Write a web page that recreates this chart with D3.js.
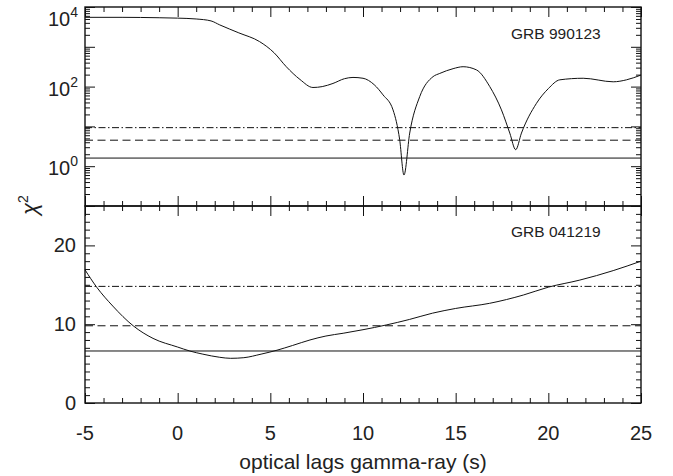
<!DOCTYPE html>
<html>
<head>
<meta charset="utf-8">
<script src="https://cdn.jsdelivr.net/npm/d3@7"></script>
<style>
  body { margin: 0; background: #fff; }
  text { font-family: "Liberation Sans", Arial, Helvetica, sans-serif; fill: #222; }
</style>
</head>
<body>
<svg id="chart" width="673" height="476"></svg>
<script>
// values
const lagTicks = [-5, 0, 5, 10, 15, 20, 25];

const lag990123 = [-5, -3, -1, 0, 1, 1.8, 2.27, 3.3, 4.42, 5.2, 5.86, 6.6, 7.3, 7.8, 8.38, 9.0, 9.46, 10, 10.6, 11.08, 11.62, 11.98, 12.21, 12.52, 13.06, 13.78, 14.14, 14.86, 15.4, 16.12, 16.84, 17.47, 17.92, 18.24, 18.55, 19.36, 20.0, 20.62, 21.88, 23.5, 24.22, 25];
const chi990123 = [5500, 5500, 5370, 5250, 5000, 4470, 3550, 2240, 1350, 710, 316, 151, 95, 100, 120, 158, 170, 162, 112, 62, 26, 4.6, 0.6, 6.8, 56, 178, 214, 282, 316, 263, 100, 26, 6.8, 2.6, 6.8, 38, 89, 148, 162, 132, 148, 195];
const levels990123 = [1.6, 4.5, 9.3];

const lag041219 = [-5, -4.37, -3.5, -2.4, -1.33, 0, 0.65, 1.36, 2.27, 2.86, 3.57, 4.5, 5.36, 6.2, 7.14, 8.0, 8.93, 10, 11.25, 12.5, 13.75, 15, 16.83, 18.65, 20, 21.7, 23.5, 25];
const chi041219 = [16.9, 14.7, 12.3, 9.8, 8.2, 7.1, 6.6, 6.2, 5.8, 5.67, 5.75, 6.2, 6.7, 7.3, 8.0, 8.5, 8.85, 9.3, 9.9, 10.6, 11.4, 12.0, 12.65, 13.7, 14.7, 15.6, 16.8, 18.0];
const levels041219 = [6.6, 9.8, 14.8];

const logLabels = [1, 100, 10000];
const linTicks = [0, 10, 20];

const levelDash = ["none", "8,4.5", "7,2.5,1.5,2.5"];

const svg = d3.select("#chart");
const left = 85, right = 641;
const topPanel = { y0: 7, y1: 206 };
const botPanel = { y0: 206, y1: 403 };

const x = d3.scaleLinear().domain([-5, 25]).range([left, right]);
const yTop = d3.scaleLog().domain([0.1, 10000]).range([topPanel.y1, topPanel.y0]);
const yBot = d3.scaleLinear().domain([0, 25]).range([botPanel.y1, botPanel.y0]);

const minorX = d3.range(-5, 26, 1).filter(d => d % 5 !== 0);
const majorLog = [0.1, 1, 10, 100, 1000, 10000];
const minorLog = [];
[0.1, 1, 10, 100, 1000].forEach(d => { for (let k = 2; k <= 9; k++) minorLog.push(d * k); });
const minorLin = d3.range(0, 26, 1).filter(d => d % 10 !== 0);

function tickAxis(axis, values, size, tr) {
    const g = svg.append("g")
        .attr("transform", tr)
        .call(axis.tickValues(values).tickSizeInner(size).tickSizeOuter(0).tickFormat(""));
    g.select(".domain").remove();
    g.selectAll(".tick line").attr("stroke", "#111").attr("stroke-width", 1);
    return g;
}

function drawPanel(p, y, yMajor, yMinor) {
    // x ticks, bottom and top, pointing inward
    tickAxis(d3.axisBottom(x), lagTicks, -10, `translate(0,${p.y1})`);
    tickAxis(d3.axisBottom(x), minorX, -5, `translate(0,${p.y1})`);
    tickAxis(d3.axisTop(x), lagTicks, -10, `translate(0,${p.y0})`);
    tickAxis(d3.axisTop(x), minorX, -5, `translate(0,${p.y0})`);
    // y ticks, left and right
    tickAxis(d3.axisLeft(y), yMajor, -10, `translate(${left},0)`);
    tickAxis(d3.axisLeft(y), yMinor, -5, `translate(${left},0)`);
    tickAxis(d3.axisRight(y), yMajor, -10, `translate(${right},0)`);
    tickAxis(d3.axisRight(y), yMinor, -5, `translate(${right},0)`);

    svg.append("rect")
        .attr("x", left).attr("y", p.y0)
        .attr("width", right - left).attr("height", p.y1 - p.y0)
        .attr("fill", "none").attr("stroke", "#111").attr("stroke-width", 1.4);
}

function drawLevels(levels, y) {
    svg.selectAll(null)
        .data(levels)
        .enter()
        .append("line")
        .attr("x1", left).attr("x2", right)
        .attr("y1", d => y(d)).attr("y2", d => y(d))
        .attr("stroke", "#111")
        .attr("stroke-width", 1)
        .attr("stroke-dasharray", (d, i) => levelDash[i]);
}

function drawCurve(xs, ys, y) {
    const pts = xs.map((v, i) => [v, ys[i]]);
    svg.append("path")
        .datum(pts)
        .attr("fill", "none")
        .attr("stroke", "#111")
        .attr("stroke-width", 1)
        .attr("d", d3.line().x(d => x(d[0])).y(d => y(d[1])).curve(d3.curveMonotoneX));
}

// top panel: GRB 990123, log scale
drawLevels(levels990123, yTop);
drawCurve(lag990123, chi990123, yTop);
drawPanel(topPanel, yTop, majorLog, minorLog);

const logLab = svg.selectAll(null)
    .data(logLabels)
    .enter()
    .append("text")
    .attr("x", left - 7)
    .attr("y", d => Math.max(yTop(d) + 9, 26))
    .attr("text-anchor", "end")
    .style("font-size", "20px");
logLab.append("tspan").text("10");
logLab.append("tspan")
    .attr("dy", -9)
    .style("font-size", "14px")
    .text(d => Math.round(Math.log10(d)));

svg.append("text")
    .attr("x", 511).attr("y", 39)
    .style("font-size", "15.5px")
    .text("GRB 990123");

// bottom panel: GRB 041219, linear scale
drawLevels(levels041219, yBot);
drawCurve(lag041219, chi041219, yBot);
drawPanel(botPanel, yBot, linTicks, minorLin);

svg.selectAll(null)
    .data(linTicks)
    .enter()
    .append("text")
    .attr("x", left - 9)
    .attr("y", d => yBot(d) + 7)
    .attr("text-anchor", "end")
    .style("font-size", "20px")
    .text(d => d);

svg.append("text")
    .attr("x", 511).attr("y", 237)
    .style("font-size", "15.5px")
    .text("GRB 041219");

// x labels
svg.selectAll(null)
    .data(lagTicks)
    .enter()
    .append("text")
    .attr("x", d => x(d))
    .attr("y", 440)
    .attr("text-anchor", "middle")
    .style("font-size", "20px")
    .text(d => String(d));

svg.append("text")
    .attr("x", (left + right) / 2)
    .attr("y", 469)
    .attr("text-anchor", "middle")
    .style("font-size", "21px")
    .text("optical lags gamma-ray (s)");

const yt = svg.append("text")
    .attr("transform", "translate(37,205) rotate(-90)")
    .attr("text-anchor", "middle")
    .style("font-size", "22px");
yt.append("tspan").style("font-style", "italic").text("χ");
yt.append("tspan").attr("dy", -9).style("font-size", "14px").text("2");
</script>
</body>
</html>
